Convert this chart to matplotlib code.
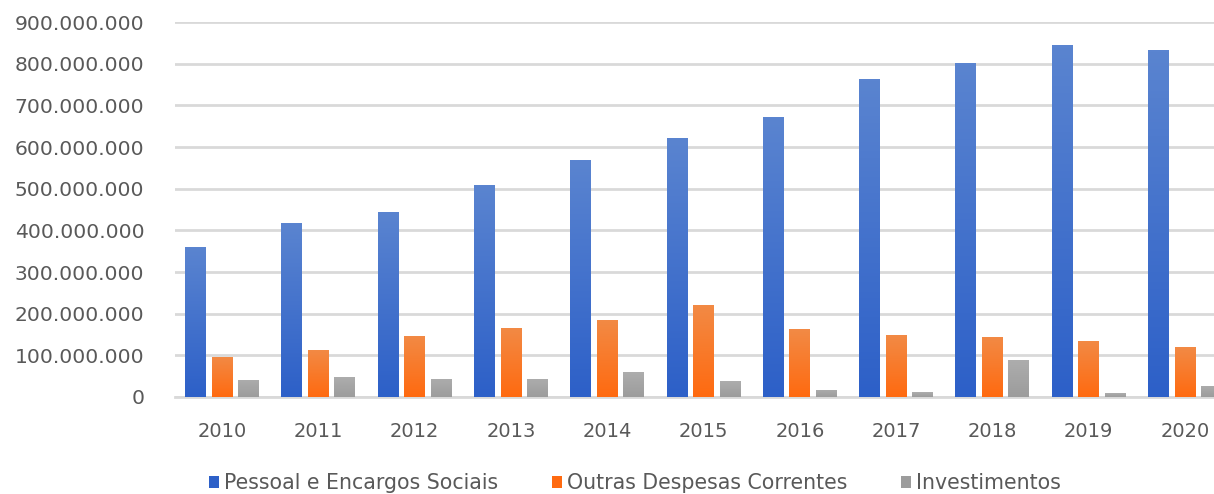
import matplotlib
matplotlib.use("Agg")
import matplotlib.pyplot as plt
import matplotlib.colors as mcolors
import numpy as np
from matplotlib.ticker import FuncFormatter

years = ["2010", "2011", "2012", "2013", "2014", "2015",
         "2016", "2017", "2018", "2019", "2020"]
pessoal = [359e6, 417e6, 445e6, 508e6, 568e6, 622e6,
           672e6, 764e6, 802e6, 846e6, 834e6]
outras = [97e6, 113e6, 147e6, 166e6, 185e6, 221e6,
          163e6, 148e6, 145e6, 135e6, 119e6]
investimentos = [41e6, 47e6, 44e6, 44e6, 60e6, 38e6,
                 18e6, 12e6, 88e6, 9e6, 27e6]

series = [
    ("Pessoal e Encargos Sociais", pessoal, "#5A84D0", "#2D60C8"),
    ("Outras Despesas Correntes", outras, "#F28A45", "#FF6A10"),
    ("Investimentos", investimentos, "#ADADAD", "#9C9C9C"),
]

plt.rcParams["font.family"] = ["DejaVu Sans"]

fig = plt.figure(figsize=(12.14, 4.94), dpi=100)
ax = fig.add_axes([175 / 1214, 1 - 397 / 494, 1 - 175 / 1214, 375 / 494])

x = np.arange(len(years))
width = 0.218
step = 0.275

for i, (name, vals, top, bottom) in enumerate(series):
    offs = (i - 1) * step
    bars = ax.bar(x + offs, vals, width, color=bottom, label=name, zorder=3)
    cmap = mcolors.LinearSegmentedColormap.from_list(name, [bottom, top])
    grad = np.linspace(0, 1, 100).reshape(-1, 1)
    for b in bars:
        bx, by = b.get_x(), b.get_y()
        w, h = b.get_width(), b.get_height()
        im = ax.imshow(grad, cmap=cmap, aspect="auto", origin="lower",
                       extent=[bx, bx + w, by, by + h], zorder=3)
        im.set_clip_path(b)

ax.set_xlim(-0.49, (1214 - 222) / 96.3)
ax.set_ylim(0, 900e6)
ax.set_yticks(np.arange(0, 900e6 + 1, 100e6))
ax.yaxis.set_major_formatter(
    FuncFormatter(lambda v, p: f"{int(v):,}".replace(",", ".")))
ax.set_xticks(x)
ax.set_xticklabels(years)
ax.grid(axis="y", color="#D9D9D9", linewidth=2, zorder=0)
ax.tick_params(axis="both", length=0, labelcolor="#595959")
ax.tick_params(axis="y", pad=22, labelsize=14.6)
ax.tick_params(axis="x", pad=18, labelsize=14)
for s in ["top", "right", "left"]:
    ax.spines[s].set_visible(False)
ax.spines["bottom"].set_color("#D9D9D9")
ax.spines["bottom"].set_linewidth(2)

handles, labels = ax.get_legend_handles_labels()
leg = fig.legend(handles, labels, loc="center", bbox_to_anchor=(0.523, 1 - 483 / 494),
                 ncol=3, frameon=False, fontsize=14.8, handlelength=0.5,
                 handleheight=0.5, handletextpad=0.25, columnspacing=2.6)
for t in leg.get_texts():
    t.set_color("#595959")

fig.savefig("out.png", dpi=100)
